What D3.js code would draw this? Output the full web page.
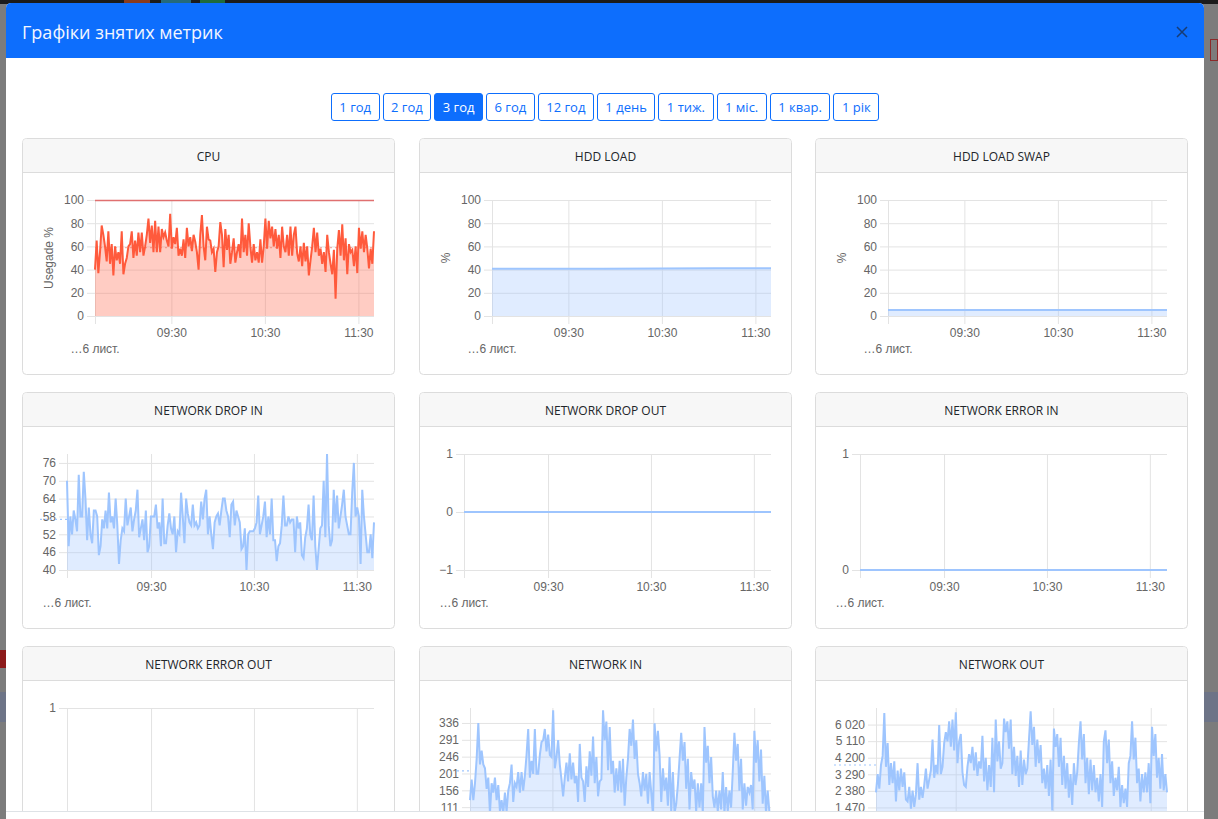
<!DOCTYPE html>
<html lang="uk">
<head>
<meta charset="utf-8">
<title>Графіки знятих метрик</title>
<script src="https://cdn.jsdelivr.net/npm/d3@7"></script>
<style>
  body { margin:0; width:1218px; height:819px; overflow:hidden; position:relative; background:#7c7c7c; font-family:"Open Sans","Liberation Sans",sans-serif; }
  .bg { position:absolute; }
  .modal { position:absolute; left:6px; top:3px; width:1198px; height:816px; background:#fff; border-radius:5px 5px 0 0; overflow:hidden; }
  .modal-header { position:absolute; left:0; top:0; width:100%; height:55px; background:#0d6efd; }
  .modal-title { position:absolute; left:16px; top:0; line-height:58px; color:#f3f6ff; font-size:18px; }
  .close { position:absolute; left:1170px; top:23px; }
  .modal-body { position:absolute; left:0; top:55px; width:100%; height:753px; overflow:hidden; }
  .footer { position:absolute; left:0; top:808px; width:100%; height:10px; border-top:1px solid #dee2e6; background:#fff; }
  .ranges { position:absolute; left:0; top:35px; width:100%; display:flex; justify-content:center; gap:3px; }
  .ranges button { height:28px; padding:0 7.5px; border:1px solid #0d6efd; border-radius:3px; background:#fff; color:#0d6efd; font-family:inherit; font-size:13px; }
  .ranges button.active { background:#0d6efd; color:#fff; }
  svg.card { position:absolute; overflow:visible; }
  .tick text { font-family:"Liberation Sans",Arial,sans-serif; font-size:12px; fill:#666; }
</style>
</head>
<body>
<div class="bg" style="left:0;top:0;width:1218px;height:4px;background:#1b1b1b"></div>
<div class="bg" style="left:124px;top:0;width:26px;height:3px;background:#8a3b1c"></div>
<div class="bg" style="left:161px;top:0;width:30px;height:3px;background:#256a7a"></div>
<div class="bg" style="left:200px;top:0;width:25px;height:3px;background:#1f6b3a"></div>
<div class="bg" style="left:0;top:650px;width:6px;height:18px;background:#8c1a1a"></div>
<div class="bg" style="left:0;top:692px;width:6px;height:30px;background:#6d7487"></div>
<div class="bg" style="left:1204px;top:692px;width:14px;height:30px;background:#6d7487"></div>
<div class="bg" style="left:1210px;top:39px;width:8px;height:22px;border:1px solid #8c2a2a;box-sizing:border-box"></div>

<div class="modal">
  <div class="modal-header">
    <div class="modal-title">Графіки знятих метрик</div>
    <svg class="close" width="12" height="12"><path d="M1,1L11,11M11,1L1,11" stroke="#173c74" stroke-width="1.5"/></svg>
  </div>
  <div class="modal-body" id="body">
    <div class="ranges" id="ranges"></div>
  </div>
  <div class="footer"></div>
</div>

<script>
// period buttons
var rangeLabels = ["1 год", "2 год", "3 год", "6 год", "12 год", "1 день", "1 тиж.", "1 міс.", "1 квар.", "1 рік"];
var activeRange = "3 год";

// time axis (16 лист., 3 hour window)
var dayLabel = "…6 лист.";
var timeStart = "08:41";
var timeEnd = "11:40";
var timeTickLabels = ["09:30", "10:30", "11:30"];

// series, one reading per sample across the window
var cpuValues = [40,65,37,55,78,70,60,47,73,45,62,35,60,48,55,45,73,36,45,50,60,62,73,50,65,52,72,55,72,52,60,70,84,63,78,55,82,55,77,55,75,68,72,65,60,88,58,68,62,76,52,58,52,66,50,76,60,68,56,70,64,55,40,70,87,60,48,77,66,65,55,58,38,55,60,81,70,42,75,57,70,45,55,67,46,55,62,50,84,55,70,52,80,60,46,62,48,55,46,66,46,60,84,58,82,67,77,60,75,58,70,50,77,60,55,70,52,77,52,70,77,54,47,60,43,63,47,60,35,48,60,76,55,72,52,58,45,55,38,70,55,45,36,57,15,58,74,52,79,48,67,36,62,55,57,43,60,37,76,58,73,55,70,58,41,58,45,73];
var cpuAvg = 59;
var cpuMax = 99.6;
var cpuTicks = [0, 20, 40, 60, 80, 100];

var hddLoadValues = [40.8, 40.8, 40.8, 41, 41.2, 41.2];
var hddSwapValues = [5.2, 5.2, 5.2, 5.2];
var percentTicks = [0, 20, 40, 60, 80, 100];

var dropInValues = [70,48,58,52,60,57,53,72,58,58,73,64,50,61,52,49,60,60,58,45,48,57,54,60,54,66,56,58,54,64,55,42,50,54,53,64,55,58,61,53,57,60,67,51,54,57,50,60,46,48,58,58,58,62,54,56,48,64,49,49,55,59,54,52,58,46,53,52,66,58,49,64,59,56,55,62,55,56,54,55,63,57,64,67,52,58,52,47,56,58,59,55,60,64,64,60,58,51,62,63,55,60,58,56,47,48,54,40,52,53,53,53,54,56,65,52,55,58,63,51,58,52,64,50,50,43,48,49,55,65,55,55,58,56,57,57,46,58,54,56,45,44,51,54,62,52,50,65,48,40,47,54,55,70,51,79,55,48,50,67,56,65,54,58,62,67,58,55,52,52,66,76,58,61,58,42,67,58,52,46,46,52,44,56];
var dropInAvg = 57;
var dropInTicks = [40, 46, 52, 58, 64, 70, 76];

var dropOutValues = [0, 0, 0, 0];
var dropOutTicks = [-1, 0, 1];
var errorInValues = [0, 0, 0, 0];
var errorInTicks = [0, 1];
var errorOutValues = [0, 0, 0, 0];
var errorOutTicks = [0, 1];

var netInValues = [130,185,130,175,240,336,225,262,225,215,160,190,95,175,150,190,130,170,100,130,95,150,100,155,175,225,125,175,165,205,150,205,155,195,250,320,190,235,200,320,200,200,250,285,290,320,260,305,250,245,370,215,245,290,225,185,140,190,230,180,255,185,230,175,195,125,280,190,180,125,220,165,260,195,300,175,245,140,180,185,370,290,340,210,325,200,235,150,215,155,235,150,240,115,190,240,320,275,345,240,290,200,175,140,205,155,200,120,205,150,90,335,260,315,250,125,215,155,190,115,245,100,205,95,120,170,240,310,235,285,160,240,105,205,160,185,100,175,110,175,95,325,230,275,175,245,140,110,155,100,155,105,205,95,165,100,155,110,205,310,235,280,155,240,105,175,115,165,150,170,105,315,230,290,180,265,120,195,95,155,100,95];
var netInAvg = 208;
var netInTicks = [66, 111, 156, 201, 246, 291, 336];

var netOutValues = [2300,3300,2500,3800,4300,6650,3700,5000,2700,3900,2800,4000,1800,3500,2400,3600,2600,3400,1900,1800,2600,1400,2400,1500,2200,3900,1900,2600,2000,2700,3600,2500,3000,3500,5200,3100,3800,3300,6000,3300,3700,5000,5600,5100,6200,4800,6300,4600,6700,3900,5100,5500,3400,2700,2600,3700,4400,3900,4800,3500,4500,3200,4000,3600,5400,2900,4200,2400,3800,2600,5300,2300,6300,4000,5100,3600,3900,6350,5600,6200,4700,6300,3300,4800,3200,4300,2600,4600,2700,4100,3300,3600,5200,6750,4900,5900,3700,5200,3900,4900,2800,3600,2500,3800,2100,4100,1300,5800,4800,5500,3700,5300,2700,4300,2500,3900,2000,3300,1600,3900,2700,3400,5000,6200,4100,5500,2800,4200,2200,4100,2400,3800,2300,3100,1800,3300,1500,5100,5700,3900,5200,2800,4000,2100,3100,2400,3700,1500,2700,1700,2500,1500,3900,4300,6200,4100,5300,2800,3600,1800,3300,2300,3400,2300,3900,1700,5900,4300,5500,3100,4200,2500,4400,2400,3300,2300];
var netOutAvg = 3800;
var netOutTicks = [560, 1470, 2380, 3290, 4200, 5110, 6020];

var RED = {line: "#ff5a3c", fill: "rgba(255,105,80,0.34)", avg: "rgba(240,90,70,0.45)"};
var BLUE = {line: "#9ec5fe", fill: "rgba(158,197,254,0.32)", avg: "#9ec5fe"};

var uaFormat = d3.formatLocale({decimal: ",", thousands: "\u00a0", grouping: [3], currency: ["", ""]}).format(",d");

// avgTo: where the visible part of the average marker ends
var charts = [
  {title: "CPU", values: cpuValues, ticks: cpuTicks, domain: [0, 100], left: 73, yTitle: "Usegade %", c: RED, avg: cpuAvg, avgFrom: 73, avgTo: 352, max: cpuMax},
  {title: "HDD LOAD", values: hddLoadValues, ticks: percentTicks, domain: [0, 100], left: 73, yTitle: "%", c: BLUE},
  {title: "HDD LOAD SWAP", values: hddSwapValues, ticks: percentTicks, domain: [0, 100], left: 73, yTitle: "%", c: BLUE},
  {title: "NETWORK DROP IN", values: dropInValues, ticks: dropInTicks, domain: [40, 79], left: 45, c: BLUE, avg: dropInAvg, avgFrom: 18, avgTo: 45},
  {title: "NETWORK DROP OUT", values: dropOutValues, ticks: dropOutTicks, domain: [-1, 1], left: 45, c: BLUE},
  {title: "NETWORK ERROR IN", values: errorInValues, ticks: errorInTicks, domain: [0, 1], left: 45, c: BLUE},
  {title: "NETWORK ERROR OUT", values: errorOutValues, ticks: errorOutTicks, domain: [0, 1], left: 45, c: BLUE},
  {title: "NETWORK IN", values: netInValues, ticks: netInTicks, domain: [66, 376], left: 51, c: BLUE, avg: netInAvg, avgFrom: 38, avgTo: 51},
  {title: "NETWORK OUT", values: netOutValues, ticks: netOutTicks, domain: [560, 6930], left: 61, c: BLUE, avg: netOutAvg, avgFrom: 19, avgTo: 61, fmt: uaFormat}
];

// buttons
d3.select("#ranges").selectAll("button")
  .data(rangeLabels)
  .enter()
  .append("button")
  .classed("active", function(d){ return d === activeRange; })
  .text(function(d){ return d; });

var parseTime = d3.timeParse("%Y-%m-%d %H:%M");
var day = "2023-11-16 ";
var t0 = parseTime(day + timeStart), t1 = parseTime(day + timeEnd);
var timeTicks = timeTickLabels.map(function(s){ return parseTime(day + s); });
var formatTime = d3.timeFormat("%H:%M");

var cardLeft = [16, 413, 809], cardTop = [80, 334, 588];
var W = 373, H = 237, plotRight = 352, plotTop = 62, plotBottom = 178;

function drawCard(cfg, i){
  var svg = d3.select("#body").append("svg")
    .attr("class", "card")
    .attr("width", W).attr("height", H)
    .style("left", cardLeft[i % 3] + "px")
    .style("top", cardTop[Math.floor(i / 3)] + "px");

  svg.append("rect").attr("x", 0.5).attr("y", 0.5).attr("width", W - 1).attr("height", H - 1)
    .attr("rx", 4).attr("fill", "#fff").attr("stroke", "#dcdcdc");
  svg.append("path")
    .attr("d", "M1,34 L1,4.5 Q1,1 4.5,1 L" + (W - 4.5) + ",1 Q" + (W - 1) + ",1 " + (W - 1) + ",4.5 L" + (W - 1) + ",34 Z")
    .attr("fill", "#f7f7f7");
  svg.append("line").attr("x1", 1).attr("x2", W - 1).attr("y1", 34.5).attr("y2", 34.5).attr("stroke", "#dcdcdc");
  svg.append("text").attr("x", W / 2).attr("y", 18.5)
    .attr("text-anchor", "middle").attr("dominant-baseline", "central")
    .style("font-size", "12px").style("fill", "#212529")
    .text(cfg.title);

  var x = d3.scaleTime().domain([t0, t1]).range([cfg.left, plotRight]);
  var y = d3.scaleLinear().domain(cfg.domain).range([plotBottom, plotTop]);
  var n = cfg.values.length;
  var tAt = function(i){ return new Date(+t0 + i * (t1 - t0) / (n - 1)); };

  // grid
  var gy = svg.append("g").attr("transform", "translate(" + cfg.left + ",0)")
    .call(d3.axisLeft(y).tickValues(cfg.ticks).tickSize(-(plotRight - cfg.left)).tickFormat(""));
  var gx = svg.append("g").attr("transform", "translate(0," + plotBottom + ")")
    .call(d3.axisBottom(x).tickValues([t0].concat(timeTicks)).tickSize(-(plotBottom - plotTop)).tickFormat(""));
  [gy, gx].forEach(function(g){
    g.select(".domain").remove();
    g.selectAll("line").attr("stroke", "#e3e3e3");
  });

  // axes with labels
  var ay = svg.append("g").attr("transform", "translate(" + cfg.left + ",0)")
    .call(d3.axisLeft(y).tickValues(cfg.ticks).tickSize(8).tickPadding(3).tickFormat(cfg.fmt || d3.format("d")));
  var ax = svg.append("g").attr("transform", "translate(0," + plotBottom + ")")
    .call(d3.axisBottom(x).tickValues([t0].concat(timeTicks)).tickSize(8).tickPadding(4)
      .tickFormat(function(d){ return +d === +t0 ? "" : formatTime(d); }));
  [ay, ax].forEach(function(g){
    g.select(".domain").remove();
    g.selectAll("line").attr("stroke", "#e3e3e3");
  });

  svg.append("text").attr("x", x(t0)).attr("y", 211)
    .attr("text-anchor", "middle").attr("dominant-baseline", "central")
    .style("font-family", "Liberation Sans, Arial, sans-serif").style("font-size", "12px").style("fill", "#666")
    .text(dayLabel);

  if (cfg.yTitle){
    svg.append("text")
      .attr("transform", "translate(27," + (plotTop + plotBottom) / 2 + ") rotate(-90)")
      .attr("text-anchor", "middle").attr("dominant-baseline", "central")
      .style("font-family", "Liberation Sans, Arial, sans-serif").style("font-size", "12px").style("fill", "#666")
      .text(cfg.yTitle);
  }

  if (cfg.avg !== undefined){
    svg.append("line")
      .attr("x1", cfg.avgFrom).attr("x2", cfg.avgTo)
      .attr("y1", y(cfg.avg)).attr("y2", y(cfg.avg))
      .attr("stroke", cfg.c.avg).attr("stroke-width", 1.2).attr("stroke-dasharray", "2,3");
  }

  var base = Math.max(cfg.domain[0], Math.min(cfg.domain[1], 0));
  var area = d3.area().x(function(d, i){ return x(tAt(i)); }).y0(y(base)).y1(function(d){ return y(d); });
  var line = d3.line().x(function(d, i){ return x(tAt(i)); }).y(function(d){ return y(d); });

  svg.append("path").datum(cfg.values).attr("d", area).attr("fill", cfg.c.fill);
  svg.append("path").datum(cfg.values).attr("d", line)
    .attr("fill", "none").attr("stroke", cfg.c.line).attr("stroke-width", 2);

  if (cfg.max !== undefined){
    svg.append("line").attr("x1", cfg.left).attr("x2", plotRight)
      .attr("y1", y(cfg.max)).attr("y2", y(cfg.max))
      .attr("stroke", "#e07070").attr("stroke-width", 1.5);
  }
}

charts.forEach(drawCard);
</script>
</body>
</html>
